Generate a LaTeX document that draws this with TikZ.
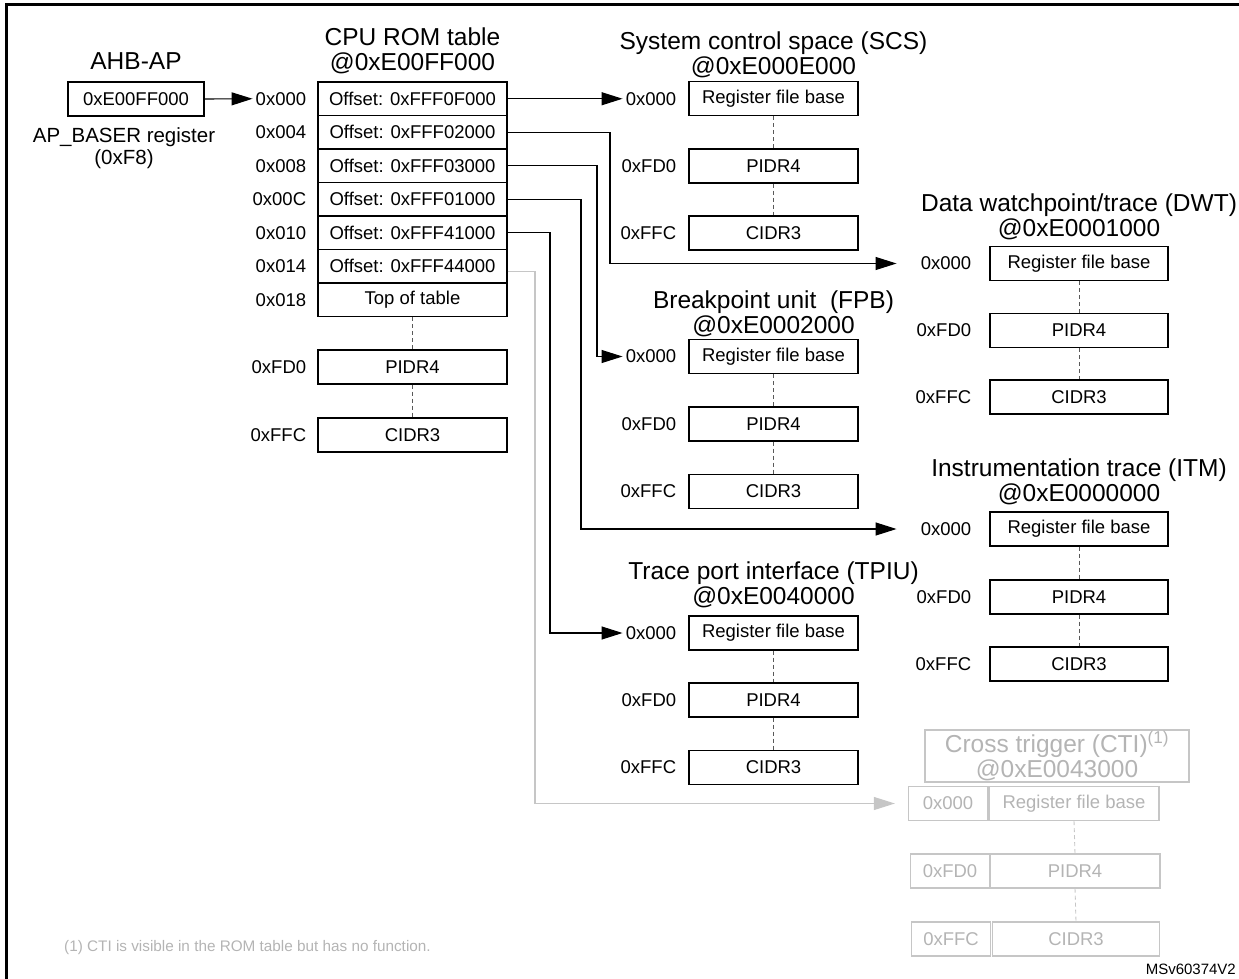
\documentclass[tikz,border=0pt]{standalone}
\usepackage{fontspec}
\setmainfont{Liberation Sans}
\usetikzlibrary{arrows.meta}
\definecolor{ctig}{HTML}{B4B4B4}
\definecolor{ctil}{HTML}{C6C6C6}
\begin{document}
\begin{tikzpicture}[x=1pt,y=-1pt,
  fsm/.style={font=\fontsize{18.5}{22}\selectfont},
  box/.style={draw, line width=1.3pt, minimum height=34pt, inner sep=0pt, fsm},
  lab/.style={anchor=east, inner sep=3pt, fsm},
  head/.style={align=center, inner sep=0pt, font=\fontsize{24.5}{25}\selectfont},
  arr/.style={line width=1.1pt, -{Triangle[length=21pt,width=13pt]}},
  garr/.style={line width=1.1pt, draw=ctil, -{Triangle[length=21pt,width=13pt]}},
  dashln/.style={line width=0.9pt, draw=black!65, dash pattern=on 4pt off 3pt},
  gdashln/.style={line width=0.9pt, draw=ctil, dash pattern=on 4pt off 3pt},
  ctibox/.style={draw=ctil, line width=1.3pt, minimum height=34pt, inner sep=0pt, text=ctig, fsm}
]
\useasboundingbox (0,0) rectangle (1239,979);
% frame
\draw[line width=3pt] (6,979) -- (6,5) -- (1239,5);

% AHB-AP
\node[head] (apt) at (136,61) {AHB-AP};
\node[box, minimum width=136pt] (ap) at (136,99) {0xE00FF000};
\node[align=center, inner sep=0pt, font=\fontsize{20.5}{21.5}\selectfont] (apreg) at (124,148) {AP\_BASER register\\(0xF8)};

% CPU ROM table
\node[head] (romt) at (412.5,50.5) {CPU ROM table\\@0xE00FF000};
\node[box, minimum width=189pt, minimum height=33.5pt] (rom0) at (412.5,98.75) {Offset: 0xFFF0F000};
\node[box, minimum width=189pt, minimum height=33.5pt] (rom1) at (412.5,132.25) {Offset: 0xFFF02000};
\node[box, minimum width=189pt, minimum height=33.5pt] (rom2) at (412.5,165.75) {Offset: 0xFFF03000};
\node[box, minimum width=189pt, minimum height=33.5pt] (rom3) at (412.5,199.25) {Offset: 0xFFF01000};
\node[box, minimum width=189pt, minimum height=33.5pt] (rom4) at (412.5,232.75) {Offset: 0xFFF41000};
\node[box, minimum width=189pt, minimum height=33.5pt] (rom5) at (412.5,266.25) {Offset: 0xFFF44000};
\node[box, minimum width=189pt, minimum height=33.5pt] (rom6) at (412.5,299.75) {Top of table};
\node[box, minimum width=189pt] (romp) at (412.5,367) {PIDR4};
\node[box, minimum width=189pt] (romc) at (412.5,435) {CIDR3};
\node[lab] (rl0) at ([xshift=-8pt]rom0.west) {0x000};
\node[lab] (rl1) at ([xshift=-8pt]rom1.west) {0x004};
\node[lab] (rl2) at ([xshift=-8pt]rom2.west) {0x008};
\node[lab] (rl3) at ([xshift=-8pt]rom3.west) {0x00C};
\node[lab] (rl4) at ([xshift=-8pt]rom4.west) {0x010};
\node[lab] (rl5) at ([xshift=-8pt]rom5.west) {0x014};
\node[lab] (rl6) at ([xshift=-8pt]rom6.west) {0x018};
\node[lab] (rlp) at ([xshift=-8pt]romp.west) {0xFD0};
\node[lab] (rlc) at ([xshift=-8pt]romc.west) {0xFFC};
\draw[dashln] (rom6.south) -- (romp.north);
\draw[dashln] (romp.south) -- (romc.north);

% SCS
\node[head] (scst) at (773.5,54.5) {System control space (SCS)\\@0xE000E000};
\node[box, minimum width=169pt] (s0) at (773.5,98.75) {Register file base};
\node[box, minimum width=169pt] (sp) at (773.5,166) {PIDR4};
\node[box, minimum width=169pt] (sc) at (773.5,233) {CIDR3};
\node[lab] (sl0) at ([xshift=-9pt]s0.west) {0x000};
\node[lab] (slp) at ([xshift=-9pt]sp.west) {0xFD0};
\node[lab] (slc) at ([xshift=-9pt]sc.west) {0xFFC};
\draw[dashln] (s0.south) -- (sp.north);
\draw[dashln] (sp.south) -- (sc.north);

% DWT
\node[head] (dwtt) at (1079,217) {Data watchpoint/trace (DWT)\\@0xE0001000};
\node[box, minimum width=178pt] (d0) at (1079,263.5) {Register file base};
\node[box, minimum width=178pt] (dp) at (1079,330.5) {PIDR4};
\node[box, minimum width=178pt] (dc) at (1079,397) {CIDR3};
\node[lab] (dl0) at ([xshift=-15pt]d0.west) {0x000};
\node[lab] (dlp) at ([xshift=-15pt]dp.west) {0xFD0};
\node[lab] (dlc) at ([xshift=-15pt]dc.west) {0xFFC};
\draw[dashln] (d0.south) -- (dp.north);
\draw[dashln] (dp.south) -- (dc.north);

% FPB
\node[head] (fpbt) at (773.5,313.5) {Breakpoint unit\ \ (FPB)\\@0xE0002000};
\node[box, minimum width=169pt] (f0) at (773.5,356.5) {Register file base};
\node[box, minimum width=169pt] (fp) at (773.5,424) {PIDR4};
\node[box, minimum width=169pt] (fc) at (773.5,491.5) {CIDR3};
\node[lab] (fl0) at ([xshift=-9pt]f0.west) {0x000};
\node[lab] (flp) at ([xshift=-9pt]fp.west) {0xFD0};
\node[lab] (flc) at ([xshift=-9pt]fc.west) {0xFFC};
\draw[dashln] (f0.south) -- (fp.north);
\draw[dashln] (fp.south) -- (fc.north);

% ITM
\node[head] (itmt) at (1079,481.5) {Instrumentation trace (ITM)\\@0xE0000000};
\node[box, minimum width=178pt] (i0) at (1079,529) {Register file base};
\node[box, minimum width=178pt] (ip) at (1079,597) {PIDR4};
\node[box, minimum width=178pt] (ic) at (1079,664) {CIDR3};
\node[lab] (il0) at ([xshift=-15pt]i0.west) {0x000};
\node[lab] (ilp) at ([xshift=-15pt]ip.west) {0xFD0};
\node[lab] (ilc) at ([xshift=-15pt]ic.west) {0xFFC};
\draw[dashln] (i0.south) -- (ip.north);
\draw[dashln] (ip.south) -- (ic.north);

% TPIU
\node[head] (tpiut) at (773.5,585) {Trace port interface (TPIU)\\@0xE0040000};
\node[box, minimum width=169pt] (t0) at (773.5,633) {Register file base};
\node[box, minimum width=169pt] (tp) at (773.5,700) {PIDR4};
\node[box, minimum width=169pt] (tc) at (773.5,767.5) {CIDR3};
\node[lab] (tl0) at ([xshift=-9pt]t0.west) {0x000};
\node[lab] (tlp) at ([xshift=-9pt]tp.west) {0xFD0};
\node[lab] (tlc) at ([xshift=-9pt]tc.west) {0xFFC};
\draw[dashln] (t0.south) -- (tp.north);
\draw[dashln] (tp.south) -- (tc.north);

% CTI (greyed)
\node[draw=ctil, line width=1.3pt, minimum width=264pt, minimum height=52pt, text=ctig, head] (ctit) at (1057,756) {Cross trigger (CTI)\textsuperscript{(1)}\\@0xE0043000};
\node[ctibox, minimum width=79pt] (cl0) at (948,803.5) {0x000};
\node[ctibox, minimum width=170pt] (c0) at (1074,803.5) {Register file base};
\node[ctibox, minimum width=79pt] (clp) at (950,871) {0xFD0};
\node[ctibox, minimum width=170pt] (cp) at (1075,871) {PIDR4};
\node[ctibox, minimum width=79pt] (clc) at (951,939) {0xFFC};
\node[ctibox, minimum width=167pt] (cc) at (1076,939) {CIDR3};
\draw[gdashln] (c0.south) -- (cp.north);
\draw[gdashln] (cp.south) -- (cc.north);

% connectors
\coordinate (x1) at (610,0);
\coordinate (x2) at (597,0);
\coordinate (x3) at (581,0);
\coordinate (x4) at (550,0);
\coordinate (x5) at (535,0);
\draw[arr] (ap.east) -- (rl0.west);
\draw[arr] (rom0.east) -- (rom0.east -| sl0.west);
\draw[arr, shorten >=21pt] (rom1.east) -- (rom1.east -| x1) |- (dl0.west);
\draw[arr] (rom2.east) -- (rom2.east -| x2) |- (fl0.west);
\draw[arr, shorten >=21pt] (rom3.east) -- (rom3.east -| x3) |- (il0.west);
\draw[arr] (rom4.east) -- (rom4.east -| x4) |- (tl0.west);
\draw[garr, shorten >=13pt] ([yshift=-5pt]rom5.east) -- ([yshift=-5pt]rom5.east -| x5) |- (cl0.west);

% notes
\node[anchor=west, inner sep=0pt, text=ctig, font=\fontsize{15.3}{17}\selectfont] (fn) at (64,948) {(1) CTI is visible in the ROM table but has no function.};
\node[anchor=east, inner sep=0pt, font=\fontsize{15}{17}\selectfont] (ms) at (1236,969) {MSv60374V2};
\end{tikzpicture}
\end{document}
